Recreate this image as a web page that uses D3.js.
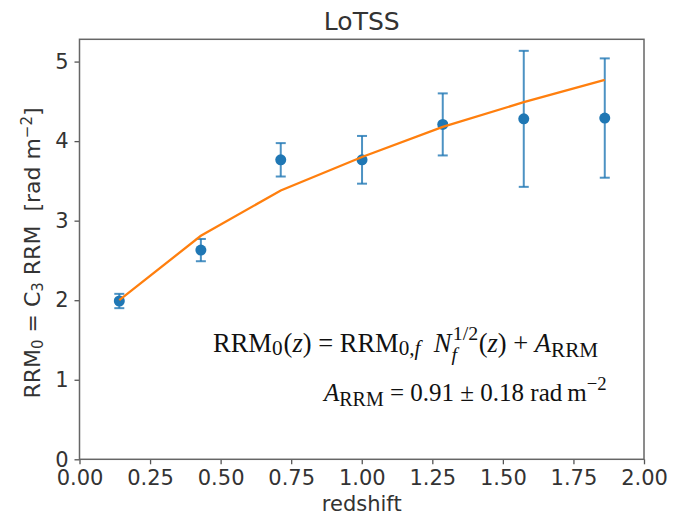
<!DOCTYPE html>
<html lang="en">
    <head>
        <meta charset="utf-8">
        <title>LoTSS RRM vs redshift</title>
        <script type="text/javascript" src="https://d3js.org/d3.v7.min.js"></script>
        <style type="text/css">
            body { margin: 0; background: #fff; }
            svg { display: block; }
            text { white-space: pre; }
        </style>
    </head>
    <body>
        <script type="text/javascript">

        //Data
        const redshift = [0.141, 0.430, 0.713, 1.001, 1.287, 1.574, 1.861];
        const rrm0     = [1.99, 2.63, 3.765, 3.765, 4.21, 4.28, 4.29];
        const rrm0Err  = [0.09, 0.14, 0.21, 0.30, 0.39, 0.855, 0.75];
        const fitRRM   = [2.00, 2.81, 3.38, 3.80, 4.18, 4.49, 4.77];
        const xTicks = [0, 0.25, 0.5, 0.75, 1.0, 1.25, 1.5, 1.75, 2.0];
        const yTicks = [0, 1, 2, 3, 4, 5];

        //Layout
        const width = 683;
        const height = 518;
        const mLeft = 79.5, mRight = 644, mTop = 39.3, mBottom = 459.3;
        const blue = "#1f77b4", orange = "#ff7f0e";
        const textCol = "#333";

        const data = redshift.map((z, i) => ({z: z, y: rrm0[i], e: rrm0Err[i], fit: fitRRM[i]}));

        //Scales
        const xScale = d3.scaleLinear().domain([0, 2]).range([mLeft, mRight]);
        const yScale = d3.scaleLinear().domain([0, 5.28]).range([mBottom, mTop]);

        const svg = d3.select("body")
                    .append("svg")
                    .attr("width", width)
                    .attr("height", height)
                    .style("font-family", "'DejaVu Sans', sans-serif");

        //Axes
        const bottomAxis = d3.axisBottom(xScale)
                             .tickValues(xTicks)
                             .tickFormat(d3.format(".2f"))
                             .tickSizeInner(5)
                             .tickSizeOuter(0)
                             .tickPadding(6);
        const gx = svg.append("g")
            .attr("transform", "translate(0," + mBottom + ")")
            .call(bottomAxis);

        const leftAxis = d3.axisLeft(yScale)
                           .tickValues(yTicks)
                           .tickFormat(d3.format("d"))
                           .tickSizeInner(5)
                           .tickSizeOuter(0)
                           .tickPadding(6);
        const gy = svg.append("g")
            .attr("transform", "translate(" + mLeft + ",0)")
            .call(leftAxis);

        [gx, gy].forEach(g => {
            g.select(".domain").remove();
            g.selectAll(".tick line").attr("stroke", "#555").attr("stroke-width", 1.3);
            g.selectAll(".tick text").attr("fill", textCol).style("font-size", "21px")
             .style("font-family", "'DejaVu Sans', sans-serif");
        });

        //Frame
        svg.append("rect")
            .attr("x", mLeft).attr("y", mTop)
            .attr("width", mRight - mLeft).attr("height", mBottom - mTop)
            .attr("fill", "none")
            .attr("stroke", "#666")
            .attr("stroke-width", 1.5);

        //Error bars
        const capW = 5;
        const eb = svg.append("g")
            .attr("stroke", blue)
            .attr("stroke-opacity", 0.8)
            .attr("stroke-width", 2);
        eb.selectAll(".bar").data(data).enter().append("line")
            .attr("x1", d => xScale(d.z)).attr("x2", d => xScale(d.z))
            .attr("y1", d => yScale(d.y - d.e)).attr("y2", d => yScale(d.y + d.e));
        eb.selectAll(".capTop").data(data).enter().append("line")
            .attr("x1", d => xScale(d.z) - capW).attr("x2", d => xScale(d.z) + capW)
            .attr("y1", d => yScale(d.y + d.e)).attr("y2", d => yScale(d.y + d.e));
        eb.selectAll(".capBot").data(data).enter().append("line")
            .attr("x1", d => xScale(d.z) - capW).attr("x2", d => xScale(d.z) + capW)
            .attr("y1", d => yScale(d.y - d.e)).attr("y2", d => yScale(d.y - d.e));

        //Points
        svg.append("g").selectAll("circle").data(data).enter().append("circle")
            .attr("cx", d => xScale(d.z))
            .attr("cy", d => yScale(d.y))
            .attr("r", 5.5)
            .attr("fill", blue);

        //Fit line
        const line = d3.line().x(d => xScale(d.z)).y(d => yScale(d.fit));
        svg.append("path")
            .datum(data)
            .attr("d", line)
            .attr("fill", "none")
            .attr("stroke", orange)
            .attr("stroke-width", 2.3);

        //Title and axis labels
        svg.append("text")
            .attr("x", (mLeft + mRight) / 2).attr("y", 30)
            .attr("text-anchor", "middle")
            .attr("fill", textCol)
            .style("font-size", "25px")
            .text("LoTSS");

        svg.append("text")
            .attr("x", (mLeft + mRight) / 2).attr("y", 511)
            .attr("text-anchor", "middle")
            .attr("fill", textCol)
            .style("font-size", "21px")
            .text("redshift");

        const yl = svg.append("text")
            .attr("transform", "translate(40,253) rotate(-90)")
            .attr("text-anchor", "middle")
            .attr("fill", textCol)
            .style("font-size", "22px");
        yl.append("tspan").text("RRM");
        yl.append("tspan").attr("dy", 3).style("font-size", "15px").text("0");
        yl.append("tspan").attr("dy", -3).text(" = C");
        yl.append("tspan").attr("dy", 3).style("font-size", "15px").text("3");
        yl.append("tspan").attr("dy", -3).text(" RRM  [rad m");
        yl.append("tspan").attr("dy", -8).style("font-size", "15px").text("\u22122");
        yl.append("tspan").attr("dy", 8).text("]");

        //Formula annotations, laid out piece by piece
        function mathText(x, y, size, pieces) {
            const g = svg.append("g")
                .style("font-family", "'Liberation Serif', 'Times New Roman', serif")
                .attr("fill", "#111");
            let cx = x;
            pieces.forEach(p => {
                const s = size * (p.s || 1);
                const t = g.append("text")
                    .attr("x", cx + (p.dx || 0) * size)
                    .attr("y", y + (p.dy || 0) * size)
                    .style("font-size", s + "px")
                    .style("font-style", p.it ? "italic" : "normal")
                    .text(p.t);
                if (p.adv !== false) cx += t.node().getComputedTextLength() + (p.dx || 0) * size;
            });
        }

        mathText(213, 352, 26.5, [
            {t: "RRM"},
            {t: "0", s: 0.8, dy: 0.12},
            {t: "(", dx: 0.04},
            {t: "z", it: true},
            {t: ") = RRM"},
            {t: "0,", s: 0.8, dy: 0.12},
            {t: "f", s: 0.8, dy: 0.12, it: true},
            {t: "N", it: true, dx: 0.5},
            {t: "f", s: 0.75, dy: 0.35, it: true, adv: false},
            {t: "1/2", s: 0.75, dy: -0.45, dx: 0.05},
            {t: "(", dx: 0.02},
            {t: "z", it: true},
            {t: ") + "},
            {t: "A", it: true},
            {t: "RRM", s: 0.8, dy: 0.18}
        ]);

        mathText(324, 401, 25, [
            {t: "A", it: true},
            {t: "RRM", s: 0.8, dy: 0.18},
            {t: " = 0.91 \u00b1 0.18 rad\u2009m"},
            {t: "\u22122", s: 0.75, dy: -0.45}
        ]);

        </script>
    </body>
</html>
